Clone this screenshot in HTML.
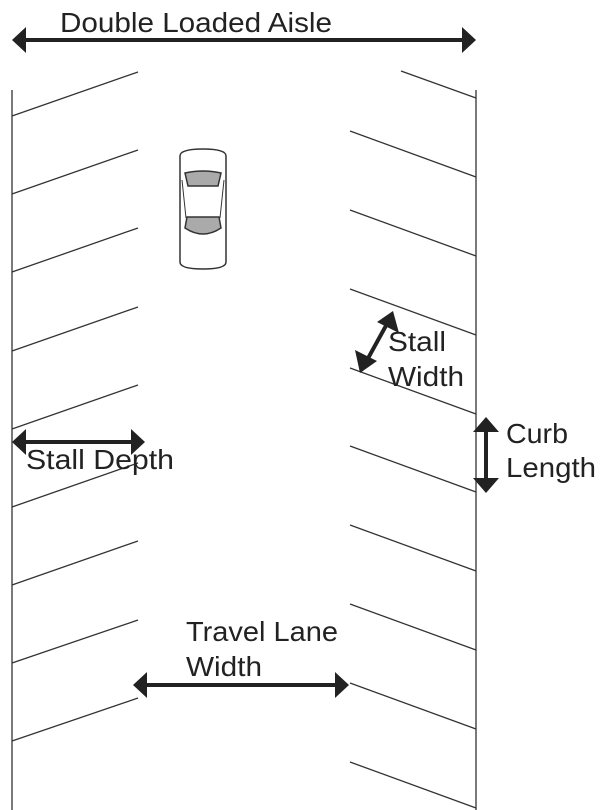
<!DOCTYPE html>
<html><head><style>html,body{margin:0;padding:0;background:#fff}svg{display:block}</style></head>
<body>
<svg width="600" height="810" viewBox="0 0 600 810" xmlns="http://www.w3.org/2000/svg" font-family="Liberation Sans, sans-serif" font-size="28" fill="#222">
<g stroke="#333" stroke-width="1.3" fill="none">
<line x1="12" y1="90" x2="12" y2="810"/>
<line x1="476" y1="90" x2="476" y2="810"/>
<line x1="12" y1="116" x2="138" y2="72"/>
<line x1="12" y1="194" x2="138" y2="150"/>
<line x1="12" y1="272" x2="138" y2="228"/>
<line x1="12" y1="351" x2="138" y2="307"/>
<line x1="12" y1="429" x2="138" y2="385"/>
<line x1="12" y1="507" x2="138" y2="463"/>
<line x1="12" y1="585" x2="138" y2="541"/>
<line x1="12" y1="663" x2="138" y2="620"/>
<line x1="12" y1="741" x2="138" y2="698"/>
<line x1="401" y1="71" x2="476" y2="98"/>
<line x1="350" y1="131" x2="476" y2="177"/>
<line x1="350" y1="210" x2="476" y2="256"/>
<line x1="350" y1="289" x2="476" y2="335"/>
<line x1="350" y1="368" x2="476" y2="414"/>
<line x1="350" y1="446" x2="476" y2="492"/>
<line x1="350" y1="525" x2="476" y2="571"/>
<line x1="350" y1="604" x2="476" y2="650"/>
<line x1="350" y1="683" x2="476" y2="729"/>
<line x1="350" y1="762" x2="476" y2="808"/>
</g>
<!-- car -->
<g stroke="#333" stroke-width="1.5">
<path d="M180 156 Q180 149 203 149 Q226 149 226 156 L226 262 Q226 269 203 269 Q180 269 180 262 Z" fill="#fff"/>
<path d="M185 173 Q203 169 221 173 L218 186 L188 186 Z" fill="#aaa"/>
<path d="M187 217 L219 217 L221 228 Q203 240 185 228 Z" fill="#aaa"/>
<path d="M182 180 L186 218 M224 180 L220 218" fill="none" stroke-width="1"/>
</g>
<!-- arrows -->
<g fill="#222" stroke="#222">
<line x1="24" y1="40" x2="464" y2="40" stroke-width="4"/>
<polygon points="12,40 26,27 26,53" stroke="none"/>
<polygon points="476,40 462,27 462,53" stroke="none"/>
<line x1="24" y1="442" x2="132" y2="442" stroke-width="4"/>
<polygon points="12,442 26,429 26,455" stroke="none"/>
<polygon points="145,442 131,429 131,455" stroke="none"/>
<line x1="146" y1="685" x2="336" y2="685" stroke-width="4"/>
<polygon points="133,685 147,672 147,698" stroke="none"/>
<polygon points="349,685 335,672 335,698" stroke="none"/>
<line x1="486" y1="430" x2="486" y2="480" stroke-width="4"/>
<polygon points="486,417 473,432 499,432" stroke="none"/>
<polygon points="486,493 473,478 499,478" stroke="none"/>
<line x1="388" y1="322" x2="366" y2="362" stroke-width="4"/>
<polygon points="393,311 377,322 399,333" stroke="none"/>
<polygon points="360,373 355,350 377,361" stroke="none"/>
</g>
<g stroke="none">
<text x="60" y="32" textLength="272" lengthAdjust="spacingAndGlyphs">Double Loaded Aisle</text>
<text x="388" y="351" textLength="58" lengthAdjust="spacingAndGlyphs">Stall</text>
<text x="388" y="386" textLength="76" lengthAdjust="spacingAndGlyphs">Width</text>
<text x="506" y="443" textLength="62" lengthAdjust="spacingAndGlyphs">Curb</text>
<text x="506" y="477" textLength="90" lengthAdjust="spacingAndGlyphs">Length</text>
<text x="26" y="469" textLength="148" lengthAdjust="spacingAndGlyphs">Stall Depth</text>
<text x="186" y="641" textLength="152" lengthAdjust="spacingAndGlyphs">Travel Lane</text>
<text x="186" y="676" textLength="76" lengthAdjust="spacingAndGlyphs">Width</text>
</g>
</svg>
</body></html>
